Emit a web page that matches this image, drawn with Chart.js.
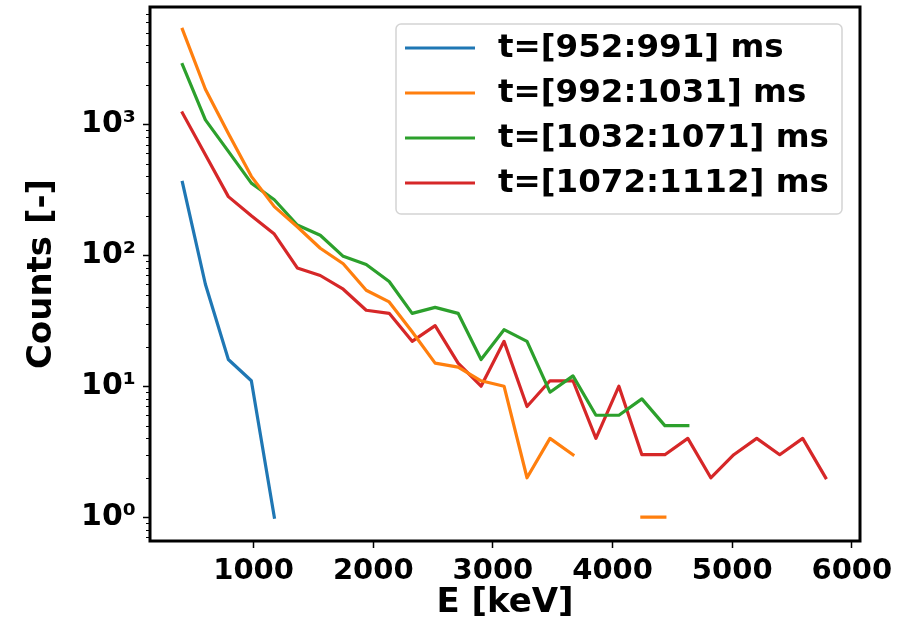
<!DOCTYPE html>
<html>
<head>
<meta charset="utf-8">
<script src="https://cdn.jsdelivr.net/npm/chart.js@4.4.0/dist/chart.umd.min.js"></script>
<style>
    html, body { margin: 0; padding: 0; background: #fff; }
    #wrap { width: 920px; height: 625px; }
</style>
</head>
<body>
<div id="wrap"><canvas id="chart" width="920" height="625"></canvas></div>
<script>
// Data
const energies = [405, 597, 789, 981, 1173, 1365, 1557, 1749, 1941, 2133, 2325, 2517, 2709, 2901, 3093,
                  3285, 3477, 3669, 3861, 4053, 4245, 4437, 4629, 4821, 5013, 5205, 5397, 5589, 5781];
const seriesLabels = ['t=[952:991] ms', 't=[992:1031] ms', 't=[1032:1071] ms', 't=[1072:1112] ms'];
const seriesColors = ['#1f77b4', '#ff7f0e', '#2ca02c', '#d62728'];
const counts952 = [360, 60, 16, 11, 1];
const counts992 = [5300, 1850, 850, 400, 235, 165, 113, 86, 54, 44, 26, 15, 14, 11, 10, 2, 4, 3, null, null, 1, 1];
const counts1032 = [2850, 1080, 620, 355, 265, 170, 142, 98, 85, 63, 36, 40, 36, 16, 27, 22, 9, 12, 6, 6, 8, 5, 5];
const counts1072 = [1220, 585, 280, 200, 145, 80, 70, 55, 38, 36, 22, 29, 15, 10, 22, 7, 11, 11, 4, 10, 3, 3, 4, 2, 3, 4, 3, 4, 2];
const xTicks = [1000, 2000, 3000, 4000, 5000, 6000];
const yTicks = [1, 10, 100, 1000];
const yTickLabels = ['10\u2070', '10\u00b9', '10\u00b2', '10\u00b3'];

const FONT = '"DejaVu Sans", "Liberation Sans", sans-serif';

function toPoints(values) {
    return values.map((v, i) => ({ x: energies[i], y: v }));
}

const allCounts = [counts952, counts992, counts1032, counts1072];

// Frame, minor ticks and legend box
const framePlugin = {
    id: 'frame',
    afterDraw(chart) {
        const { ctx, chartArea: a } = chart;
        const y = chart.scales.y;
        ctx.save();

        // minor log ticks
        ctx.strokeStyle = '#000';
        ctx.lineWidth = 1;
        for (let e = -1; e <= 3; e++) {
            for (let m = 2; m <= 9; m++) {
                const v = m * Math.pow(10, e);
                if (v < y.min || v > y.max) continue;
                const py = Math.round(y.getPixelForValue(v)) + 0.5;
                ctx.beginPath();
                ctx.moveTo(a.left - 4, py);
                ctx.lineTo(a.left, py);
                ctx.stroke();
            }
        }

        // axes frame
        ctx.lineWidth = 3;
        ctx.strokeRect(a.left, a.top, a.right - a.left, a.bottom - a.top);

        // legend
        const bx = a.right - 464, by = a.top + 17, bw = 446, bh = 190;
        ctx.beginPath();
        ctx.roundRect(bx, by, bw, bh, 5);
        ctx.fillStyle = 'rgba(255,255,255,0.8)';
        ctx.fill();
        ctx.strokeStyle = '#d4d4d4';
        ctx.lineWidth = 1.5;
        ctx.stroke();

        ctx.font = 'bold 32.5px ' + FONT;
        ctx.textBaseline = 'middle';
        ctx.textAlign = 'left';
        chart.data.datasets.forEach((ds, i) => {
            const ry = by + 24 + 45 * i;
            ctx.strokeStyle = ds.borderColor;
            ctx.lineWidth = 3;
            ctx.beginPath();
            ctx.moveTo(bx + 9, ry);
            ctx.lineTo(bx + 79, ry);
            ctx.stroke();
            ctx.fillStyle = '#000';
            ctx.fillText(ds.label, bx + 102, ry + 1);
        });

        ctx.restore();
    }
};

const ctx = document.getElementById('chart').getContext('2d');
new Chart(ctx, {
    type: 'line',
    data: {
        datasets: allCounts.map((vals, i) => ({
            label: seriesLabels[i],
            data: toPoints(vals),
            borderColor: seriesColors[i],
            backgroundColor: seriesColors[i],
            borderWidth: 3.2,
            pointRadius: 0,
            tension: 0,
            spanGaps: false,
            borderJoinStyle: 'round',
            borderCapStyle: 'square'
        }))
    },
    options: {
        responsive: false,
        animation: false,
        devicePixelRatio: 1,
        layout: { padding: { top: 7, right: 60, left: 0, bottom: 0 } },
        plugins: {
            legend: { display: false },
            tooltip: { enabled: false }
        },
        scales: {
            x: {
                type: 'linear',
                min: 134,
                max: 6068,
                afterBuildTicks: (scale) => { scale.ticks = xTicks.map(v => ({ value: v })); },
                afterFit: (scale) => {
                    scale.height = 84;
                    scale.paddingLeft = 0;
                    scale.paddingRight = 0;
                },
                grid: {
                    drawOnChartArea: false,
                    drawTicks: true,
                    tickLength: 7,
                    tickColor: '#000',
                    tickWidth: 1.5
                },
                border: { display: false },
                ticks: {
                    autoSkip: false,
                    maxRotation: 0,
                    padding: 6,
                    color: '#000',
                    font: { family: FONT, size: 29, weight: 'bold' },
                    callback: (v) => String(v)
                },
                title: {
                    display: true,
                    text: 'E [keV]',
                    color: '#000',
                    font: { family: FONT, size: 34, weight: 'bold' },
                    padding: { top: 0, bottom: 1 }
                }
            },
            y: {
                type: 'logarithmic',
                min: 0.658,
                max: 7850,
                afterBuildTicks: (scale) => { scale.ticks = yTicks.map(v => ({ value: v })); },
                afterFit: (scale) => {
                    scale.width = 150;
                    scale.paddingTop = 0;
                    scale.paddingBottom = 0;
                },
                grid: {
                    drawOnChartArea: false,
                    drawTicks: true,
                    tickLength: 7,
                    tickColor: '#000',
                    tickWidth: 1.5
                },
                border: { display: false },
                ticks: {
                    autoSkip: false,
                    padding: 7,
                    color: '#000',
                    font: { family: FONT, size: 30, weight: 'bold' },
                    callback: (v) => {
                        const idx = yTicks.indexOf(v);
                        return idx >= 0 ? yTickLabels[idx] : '';
                    }
                },
                title: {
                    display: true,
                    text: 'Counts [-]',
                    color: '#000',
                    font: { family: FONT, size: 34, weight: 'bold' },
                    padding: { top: 22, bottom: 0 }
                }
            }
        }
    },
    plugins: [framePlugin]
});
</script>
</body>
</html>
